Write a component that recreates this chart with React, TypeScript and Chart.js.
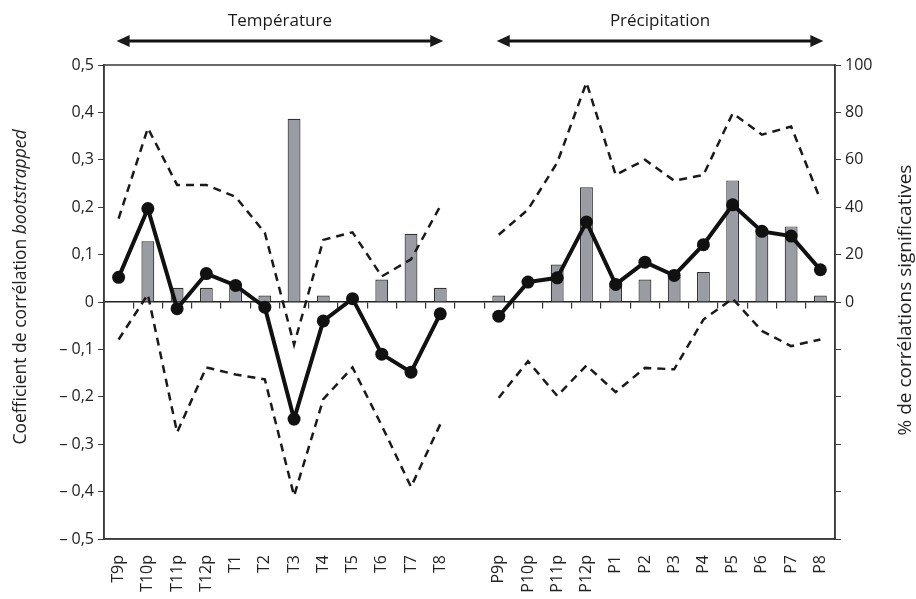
import React, { useEffect, useRef } from 'react';
import { Chart, registerables } from 'chart.js';

Chart.register(...registerables);

const categories = [
  'T9p', 'T10p', 'T11p', 'T12p', 'T1', 'T2', 'T3', 'T4', 'T5', 'T6', 'T7', 'T8',
  '',
  'P9p', 'P10p', 'P11p', 'P12p', 'P1', 'P2', 'P3', 'P4', 'P5', 'P6', 'P7', 'P8',
];

const meanCorr = [
  0.052, 0.197, -0.014, 0.06, 0.035, -0.011, -0.247, -0.04, 0.007, -0.11, -0.148, -0.025,
  null,
  -0.03, 0.042, 0.051, 0.169, 0.037, 0.084, 0.056, 0.121, 0.205, 0.149, 0.139, 0.068,
];

const upperCI = [
  0.176, 0.367, 0.247, 0.247, 0.222, 0.146, -0.09, 0.131, 0.147, 0.054, 0.09, 0.202,
  null,
  0.142, 0.195, 0.294, 0.463, 0.268, 0.3, 0.256, 0.268, 0.398, 0.353, 0.37, 0.216,
];

const lowerCI = [
  -0.079, 0.016, -0.275, -0.138, -0.153, -0.163, -0.409, -0.205, -0.138, -0.261, -0.39, -0.258,
  null,
  -0.202, -0.125, -0.198, -0.134, -0.19, -0.139, -0.142, -0.037, 0.007, -0.061, -0.093, -0.079,
];

const pctSignif = [
  0, 25.6, 6, 6, 6, 2.7, 77.3, 2.7, 0, 9.5, 28.8, 6,
  null,
  2.7, 0, 15.8, 48.4, 8, 9.5, 10.5, 12.7, 51.3, 31, 31.9, 2.7,
];

const groupHeaders = [
  { text: 'Température', from: 0, to: 11 },
  { text: 'Précipitation', from: 13, to: 24 },
];

const leftTitleNormal = 'Coefficient de corrélation ';
const leftTitleItalic = 'bootstrapped';
const rightTitle = '% de corrélations significatives';

const FONT = "'Open Sans', 'Noto Sans', sans-serif";

function fmtLeft(v: number): string {
  const r = Math.round(v * 10) / 10;
  if (r === 0) return '0';
  const s = Math.abs(r).toFixed(1).replace('.', ',');
  return r < 0 ? '\u2013 ' + s : s;
}

const decorPlugin = {
  id: 'decor',
  afterDraw(chart: any) {
    const { ctx, chartArea: a, scales } = chart;
    ctx.save();
    // frame
    ctx.strokeStyle = '#3a3a3a';
    ctx.lineWidth = 1.5;
    ctx.strokeRect(a.left, a.top, a.right - a.left, a.bottom - a.top);

    // headers with double arrows
    const xs = scales.x;
    ctx.fillStyle = '#1a1a1a';
    ctx.strokeStyle = '#111';
    for (const h of groupHeaders) {
      const x1 = xs.getPixelForValue(h.from) - 2;
      const x2 = xs.getPixelForValue(h.to) + 3;
      const y = 41;
      ctx.font = `17px ${FONT}`;
      ctx.textAlign = 'center';
      ctx.textBaseline = 'middle';
      ctx.fillText(h.text, (x1 + x2) / 2, 21);
      ctx.lineWidth = 3;
      ctx.beginPath();
      ctx.moveTo(x1 + 8, y);
      ctx.lineTo(x2 - 8, y);
      ctx.stroke();
      ctx.beginPath();
      ctx.moveTo(x1, y);
      ctx.lineTo(x1 + 13, y - 6);
      ctx.lineTo(x1 + 13, y + 6);
      ctx.closePath();
      ctx.fill();
      ctx.beginPath();
      ctx.moveTo(x2, y);
      ctx.lineTo(x2 - 13, y - 6);
      ctx.lineTo(x2 - 13, y + 6);
      ctx.closePath();
      ctx.fill();
    }

    // left title (mixed roman / italic)
    ctx.save();
    ctx.translate(21, 287);
    ctx.rotate(-Math.PI / 2);
    ctx.textBaseline = 'middle';
    ctx.textAlign = 'left';
    const fN = `17.5px ${FONT}`;
    const fI = `italic 17.5px ${FONT}`;
    ctx.font = fN;
    const w1 = ctx.measureText(leftTitleNormal).width;
    ctx.font = fI;
    const w2 = ctx.measureText(leftTitleItalic).width;
    const start = -(w1 + w2) / 2;
    ctx.font = fN;
    ctx.fillStyle = '#222';
    ctx.fillText(leftTitleNormal, start, 0);
    ctx.font = fI;
    ctx.fillText(leftTitleItalic, start + w1, 0);
    ctx.restore();

    // right title
    ctx.save();
    ctx.translate(906, 300);
    ctx.rotate(-Math.PI / 2);
    ctx.textBaseline = 'middle';
    ctx.textAlign = 'center';
    ctx.font = `19px ${FONT}`;
    ctx.fillStyle = '#222';
    ctx.fillText(rightTitle, 0, 0);
    ctx.restore();

    ctx.restore();
  },
};

export default function App() {
  const ref = useRef<HTMLCanvasElement | null>(null);

  useEffect(() => {
    if (!ref.current) return;
    const chart = new Chart(ref.current, {
      type: 'bar',
      data: {
        labels: categories,
        datasets: [
          {
            type: 'line',
            label: 'Coefficient moyen',
            data: meanCorr,
            yAxisID: 'y',
            borderColor: '#111',
            backgroundColor: '#111',
            borderWidth: 4,
            pointRadius: 6.5,
            pointBackgroundColor: '#111',
            pointBorderWidth: 0,
            tension: 0,
            order: 1,
          } as any,
          {
            type: 'line',
            label: 'IC sup',
            data: upperCI,
            yAxisID: 'y',
            borderColor: '#1a1a1a',
            borderWidth: 2.5,
            borderDash: [8, 6],
            pointRadius: 0,
            tension: 0,
            order: 2,
          } as any,
          {
            type: 'line',
            label: 'IC inf',
            data: lowerCI,
            yAxisID: 'y',
            borderColor: '#1a1a1a',
            borderWidth: 2.5,
            borderDash: [8, 6],
            pointRadius: 0,
            tension: 0,
            order: 2,
          } as any,
          {
            type: 'bar',
            label: '% significatives',
            data: pctSignif,
            yAxisID: 'y2',
            backgroundColor: '#9a9ca3',
            borderColor: '#333',
            borderWidth: 1.2,
            barPercentage: 0.44,
            categoryPercentage: 1,
            order: 3,
          } as any,
        ],
      },
      options: {
        responsive: false,
        animation: false,
        layout: { padding: { top: 65, left: 0, right: 0, bottom: 0 } },
        plugins: {
          legend: { display: false },
          tooltip: { enabled: false },
        },
        scales: {
          x: {
            type: 'category',
            position: 'bottom',
            offset: true,
            grid: { display: false, drawTicks: false },
            border: { display: true, color: '#3a3a3a', width: 1.5 },
            ticks: {
              autoSkip: false,
              minRotation: 90,
              maxRotation: 90,
              padding: 16,
              color: '#222',
              font: { family: FONT, size: 16 },
            },
            afterFit(scale: any) {
              scale.height = 60;
            },
          },
          x2: {
            type: 'category',
            axis: 'x',
            labels: categories,
            position: { y: 0 } as any,
            offset: true,
            grid: {
              display: true,
              offset: true,
              drawOnChartArea: false,
              drawTicks: true,
              tickLength: 6,
              color: '#333',
              lineWidth: 1.2,
            },
            border: { display: true, color: '#222', width: 1.5 },
            ticks: { display: false },
          },
          y: {
            position: 'left',
            min: -0.5,
            max: 0.5,
            grid: {
              drawOnChartArea: false,
              drawTicks: true,
              tickLength: 6,
              color: '#3a3a3a',
            },
            border: { display: true, color: '#3a3a3a', width: 1.5 },
            ticks: {
              stepSize: 0.1,
              padding: 4,
              color: '#222',
              font: { family: FONT, size: 16 },
              callback: (v: any) => fmtLeft(Number(v)),
            },
            afterFit(scale: any) {
              scale.width = 104;
            },
          },
          y2: {
            position: 'right',
            min: -100,
            max: 100,
            grid: {
              drawOnChartArea: false,
              drawTicks: true,
              tickLength: 6,
              color: '#3a3a3a',
            },
            border: { display: true, color: '#3a3a3a', width: 1.5 },
            ticks: {
              stepSize: 20,
              padding: 4,
              color: '#222',
              font: { family: FONT, size: 16 },
              callback: (v: any) => (Number(v) >= 0 ? String(Math.round(Number(v))) : ''),
            },
            afterFit(scale: any) {
              scale.width = 81;
            },
          },
        },
      } as any,
      plugins: [decorPlugin],
    });
    return () => chart.destroy();
  }, []);

  return (
    <div style={{ position: 'fixed', left: 0, top: 0, width: 916, height: 599, background: '#fff' }}>
      <canvas ref={ref} width={916} height={599} style={{ display: 'block' }} />
    </div>
  );
}
